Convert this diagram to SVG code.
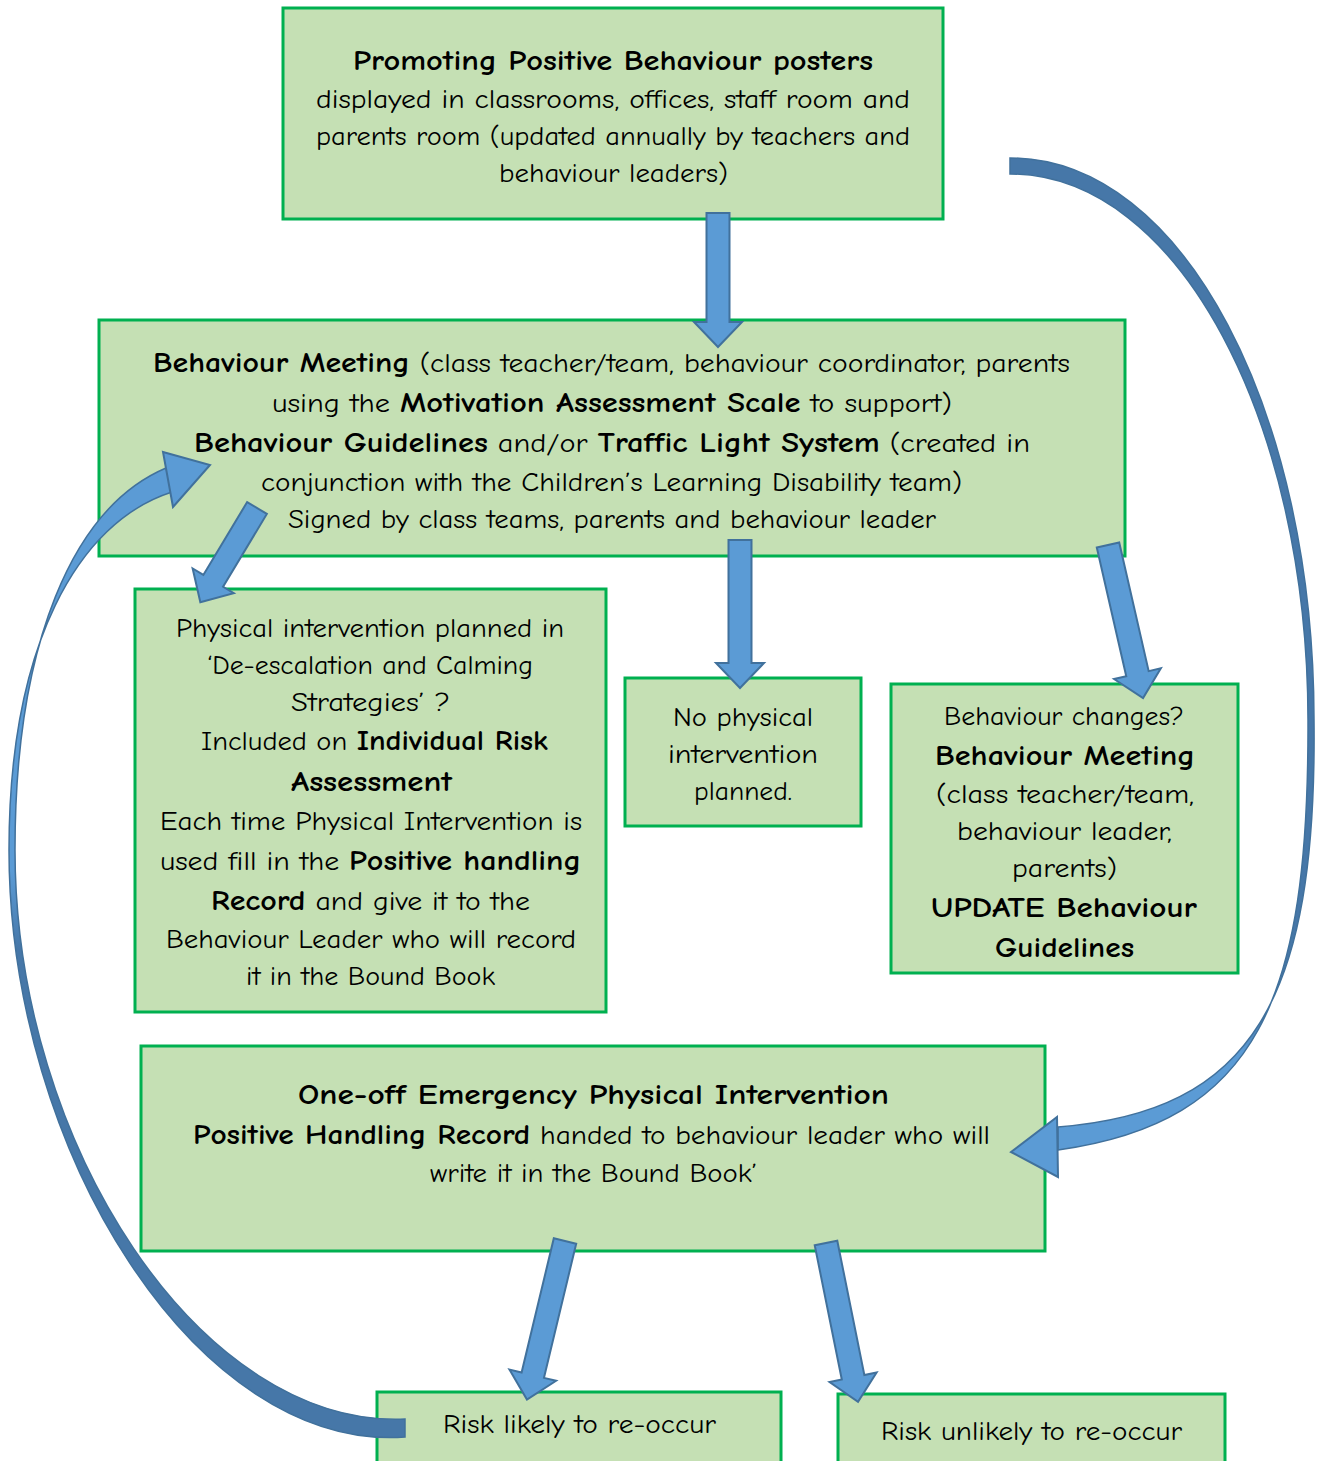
<svg xmlns="http://www.w3.org/2000/svg" width="1317" height="1461" viewBox="0 0 1317 1461">
<style>
.box{fill:#c5e0b4;stroke:#00b050;stroke-width:3}
.t{font-family:"Comic Sans MS","Comic Neue","Noto Sans",sans-serif;font-size:27px;fill:#000;text-anchor:middle}
.b{font-weight:bold;font-size:29px}
.ba{fill:#5b9bd5;stroke:#41719c;stroke-width:2;stroke-linejoin:miter}
.band{stroke:#41719c;stroke-width:1.5}
</style>
<defs>
<linearGradient id="gl" gradientUnits="userSpaceOnUse" x1="0" y1="460" x2="0" y2="1440">
<stop offset="0" stop-color="#5b9bd5"/><stop offset="0.42" stop-color="#5b9bd5"/><stop offset="0.5" stop-color="#4677a8"/><stop offset="1" stop-color="#4677a8"/>
</linearGradient>
<linearGradient id="gr" gradientUnits="userSpaceOnUse" x1="0" y1="166" x2="0" y2="1150">
<stop offset="0" stop-color="#4677a8"/><stop offset="0.86" stop-color="#4677a8"/><stop offset="0.9" stop-color="#5b9bd5"/><stop offset="1" stop-color="#5b9bd5"/>
</linearGradient>
</defs>

<g id="n1">
<rect class="box" x="283" y="8" width="660" height="211"/>
<text class="t" x="613" y="70" textLength="520" lengthAdjust="spacingAndGlyphs"><tspan class="b">Promoting Positive Behaviour posters</tspan></text>
<text class="t" x="613" y="108" textLength="594" lengthAdjust="spacingAndGlyphs">displayed in classrooms, offices, staff room and</text>
<text class="t" x="613" y="145" textLength="594" lengthAdjust="spacingAndGlyphs">parents room (updated annually by teachers and</text>
<text class="t" x="613.5" y="182" textLength="229" lengthAdjust="spacingAndGlyphs">behaviour leaders)</text>
</g>

<g id="n2">
<rect class="box" x="99" y="320" width="1026" height="236"/>
<text class="t" x="611.5" y="372" textLength="917" lengthAdjust="spacingAndGlyphs"><tspan class="b">Behaviour Meeting</tspan> (class teacher/team, behaviour coordinator, parents</text>
<text class="t" x="612" y="412" textLength="680" lengthAdjust="spacingAndGlyphs">using the <tspan class="b">Motivation Assessment Scale</tspan> to support)</text>
<text class="t" x="612" y="452" textLength="836" lengthAdjust="spacingAndGlyphs"><tspan class="b">Behaviour Guidelines</tspan> and/or <tspan class="b">Traffic Light System</tspan> (created in</text>
<text class="t" x="611.5" y="491" textLength="701" lengthAdjust="spacingAndGlyphs">conjunction with the Children’s Learning Disability team)</text>
<text class="t" x="612" y="528" textLength="648" lengthAdjust="spacingAndGlyphs">Signed by class teams, parents and behaviour leader</text>
</g>

<g id="n3">
<rect class="box" x="135" y="589" width="471" height="423"/>
<text class="t" x="370" y="637" textLength="388" lengthAdjust="spacingAndGlyphs">Physical intervention planned in</text>
<text class="t" x="370" y="674" textLength="326" lengthAdjust="spacingAndGlyphs">‘De-escalation and Calming</text>
<text class="t" x="370.5" y="711" textLength="159" lengthAdjust="spacingAndGlyphs">Strategies’ ?</text>
<text class="t" x="374.5" y="750" textLength="347" lengthAdjust="spacingAndGlyphs">Included on <tspan class="b">Individual Risk</tspan></text>
<text class="t" x="371.5" y="791" textLength="161" lengthAdjust="spacingAndGlyphs"><tspan class="b">Assessment</tspan></text>
<text class="t" x="371" y="830" textLength="422" lengthAdjust="spacingAndGlyphs">Each time Physical Intervention is</text>
<text class="t" x="370.5" y="870" textLength="421" lengthAdjust="spacingAndGlyphs">used fill in the <tspan class="b">Positive handling</tspan></text>
<text class="t" x="370.5" y="910" textLength="319" lengthAdjust="spacingAndGlyphs"><tspan class="b">Record</tspan> and give it to the</text>
<text class="t" x="371" y="948" textLength="410" lengthAdjust="spacingAndGlyphs">Behaviour Leader who will record</text>
<text class="t" x="370.5" y="985" textLength="249" lengthAdjust="spacingAndGlyphs">it in the Bound Book</text>
</g>

<g id="n4">
<rect class="box" x="625" y="678" width="236" height="148"/>
<text class="t" x="743" y="726" textLength="140" lengthAdjust="spacingAndGlyphs">No physical</text>
<text class="t" x="743" y="763" textLength="150" lengthAdjust="spacingAndGlyphs">intervention</text>
<text class="t" x="743" y="800" textLength="98" lengthAdjust="spacingAndGlyphs">planned.</text>
</g>

<g id="n5">
<rect class="box" x="891" y="684" width="347" height="289"/>
<text class="t" x="1064" y="725" textLength="240" lengthAdjust="spacingAndGlyphs">Behaviour changes?</text>
<text class="t" x="1065" y="765" textLength="260" lengthAdjust="spacingAndGlyphs"><tspan class="b">Behaviour Meeting</tspan></text>
<text class="t" x="1065" y="803" textLength="258" lengthAdjust="spacingAndGlyphs">(class teacher/team,</text>
<text class="t" x="1064.5" y="840" textLength="215" lengthAdjust="spacingAndGlyphs">behaviour leader,</text>
<text class="t" x="1064.5" y="877" textLength="105" lengthAdjust="spacingAndGlyphs">parents)</text>
<text class="t" x="1064" y="917" textLength="266" lengthAdjust="spacingAndGlyphs"><tspan class="b">UPDATE Behaviour</tspan></text>
<text class="t" x="1064.5" y="957" textLength="139" lengthAdjust="spacingAndGlyphs"><tspan class="b">Guidelines</tspan></text>
</g>

<g id="n6">
<rect class="box" x="141" y="1046" width="904" height="205"/>
<text class="t" x="593.5" y="1104" textLength="591" lengthAdjust="spacingAndGlyphs"><tspan class="b">One-off Emergency Physical Intervention</tspan></text>
<text class="t" x="591.5" y="1144" textLength="797" lengthAdjust="spacingAndGlyphs"><tspan class="b">Positive Handling Record</tspan> handed to behaviour leader who will</text>
<text class="t" x="593.5" y="1182" textLength="327" lengthAdjust="spacingAndGlyphs">write it in the Bound Book’</text>
</g>

<g id="n7">
<rect class="box" x="377" y="1392" width="404" height="80"/>
<text class="t" x="579.5" y="1433" textLength="273" lengthAdjust="spacingAndGlyphs">Risk likely to re-occur</text>
</g>

<g id="n8">
<rect class="box" x="838" y="1394" width="387" height="80"/>
<text class="t" x="1031.5" y="1440" textLength="301" lengthAdjust="spacingAndGlyphs">Risk unlikely to re-occur</text>
</g>

<g id="connectors">
<polygon class="ba" transform="translate(718,213)" points="-11.5,0 11.5,0 11.5,109 24,109 0,134 -24,109 -11.5,109"/>
<polygon class="ba" transform="translate(257,508) rotate(31)" points="-11.5,0 11.5,0 11.5,85 24,85 0,110 -24,85 -11.5,85"/>
<polygon class="ba" transform="translate(740,540)" points="-11.5,0 11.5,0 11.5,123 24,123 0,148 -24,123 -11.5,123"/>
<polygon class="ba" transform="translate(1108,545) rotate(-12.9)" points="-11.5,0 11.5,0 11.5,132 24,132 0,157 -24,132 -11.5,132"/>
<polygon class="ba" transform="translate(565,1241) rotate(13.5)" points="-11.5,0 11.5,0 11.5,138 24,138 0,163 -24,138 -11.5,138"/>
<polygon class="ba" transform="translate(826,1243) rotate(-11.4)" points="-11.5,0 11.5,0 11.5,137 24,137 0,162 -24,137 -11.5,137"/>

<path class="band" fill="url(#gr)" d="M1010,158 C1185,158 1314,415 1314,720 C1317,1000 1252,1112 1058,1127 L1058,1150 C1258,1122 1309,1000 1308,720 C1308,425 1180,174 1010,174 Z"/>
<polygon class="ba" points="1011,1152 1057,1117 1058,1177"/>

<path class="band" fill="url(#gl)" d="M405,1437 C198,1452 9,1152 9,850 C9,645 78,522 172,492 L166,468 C72,508 15,645 15,850 C15,1146 202,1428 405,1419 Z"/>
<polygon class="ba" points="163,452 210,465 173,507"/>
</g>
</svg>
